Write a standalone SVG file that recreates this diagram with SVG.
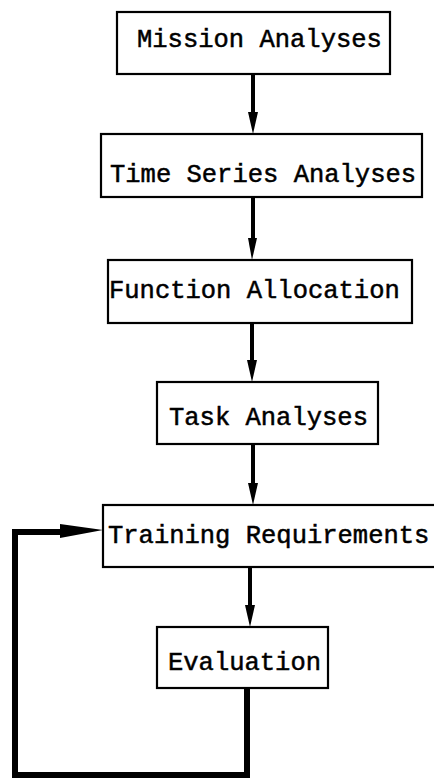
<svg xmlns="http://www.w3.org/2000/svg" width="434" height="781" viewBox="0 0 434 781">
<defs>
<style>
.box{fill:#fff;stroke:#000;stroke-width:2.2}
.lbl{font-family:"Liberation Mono","DejaVu Sans Mono",monospace;font-size:25.5px;fill:#000;stroke:#000;stroke-width:0.5}
.arr{stroke:#000;stroke-width:4;fill:none}
.loop{stroke:#000;stroke-width:6;fill:none;stroke-linejoin:miter}
</style>
</defs>
<rect width="434" height="781" fill="#fff"/>
<g id="connectors">
<line class="arr" x1="253" y1="74" x2="253" y2="116"/><path d="M248,112 L253,134 L258,112 Z"/>
<line class="arr" x1="253" y1="197" x2="253" y2="242"/><path d="M248,238 L252,260 L257,238 Z"/>
<line class="arr" x1="252" y1="323" x2="252" y2="364"/><path d="M247,360 L252,382 L257,360 Z"/>
<line class="arr" x1="253" y1="444" x2="253" y2="487"/><path d="M248,483 L253,505 L258,483 Z"/>
<line class="arr" x1="250" y1="567" x2="250" y2="609"/><path d="M245,605 L250,627 L255,605 Z"/>
<polyline class="loop" points="247,688 247,775 15,775 15,532 70,532"/>
<path d="M60,524 L103,530 L60,538 Z"/>
</g>
<g id="mission"><rect class="box" x="117" y="12" width="273" height="62"/><text class="lbl" x="137" y="47">Mission Analyses</text></g>
<g id="timeseries"><rect class="box" x="101" y="134" width="321" height="63"/><text class="lbl" x="110" y="182">Time Series Analyses</text></g>
<g id="function"><rect class="box" x="108" y="260" width="304" height="63"/><text class="lbl" x="109" y="298">Function Allocation</text></g>
<g id="task"><rect class="box" x="157" y="382" width="221" height="62"/><text class="lbl" x="169" y="425">Task Analyses</text></g>
<g id="training"><rect class="box" x="103" y="505" width="340" height="62"/><text class="lbl" x="108" y="543">Training Requirements</text></g>
<g id="evaluation"><rect class="box" x="157" y="627" width="171" height="61"/><text class="lbl" x="168" y="670">Evaluation</text></g>
</svg>
